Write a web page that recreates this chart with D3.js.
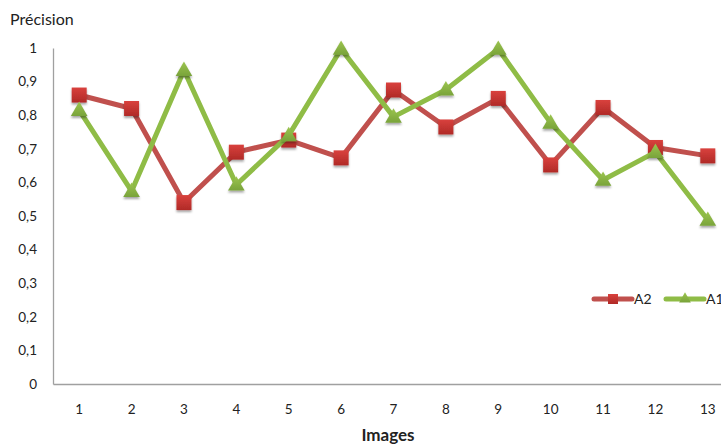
<!DOCTYPE html>
<html><head><meta charset="utf-8">
<script src="https://cdn.jsdelivr.net/npm/d3@7"></script>
<style>body{margin:0;background:#fff;overflow:hidden}svg{display:block}</style>
</head><body>
<svg id="c" width="721" height="445"></svg>
<script>
const categories = ["1","2","3","4","5","6","7","8","9","10","11","12","13"];
const seriesA2 = [0.86,0.82,0.54,0.69,0.726,0.673,0.875,0.765,0.85,0.652,0.823,0.704,0.679];
const seriesA1 = [0.815,0.574,0.934,0.593,0.74,0.997,0.795,0.876,0.997,0.777,0.607,0.69,0.488];
const yTicks = [0,0.1,0.2,0.3,0.4,0.5,0.6,0.7,0.8,0.9,1];
const seriesNames = ["A2","A1"];

const svg = d3.select("#c");
const font = "Lato, 'Open Sans', sans-serif";
const x = d3.scaleBand().domain(categories).range([53, 734]).padding(0);
const y = d3.scaleLinear().domain([0,1]).range([384,48]);

const defs = svg.append("defs");
const sh = defs.append("filter").attr("id","sh").attr("x","-50%").attr("y","-50%").attr("width","200%").attr("height","200%");
sh.append("feDropShadow").attr("dx",0).attr("dy",2).attr("stdDeviation",1.2).attr("flood-color","#000").attr("flood-opacity",0.35);
const gR = defs.append("linearGradient").attr("id","gR").attr("x1",0).attr("y1",0).attr("x2",0).attr("y2",1);
gR.append("stop").attr("offset","0").attr("stop-color","#d9413d");
gR.append("stop").attr("offset","1").attr("stop-color","#b02a27");
const gG = defs.append("linearGradient").attr("id","gG").attr("x1",0).attr("y1",0).attr("x2",0).attr("y2",1);
gG.append("stop").attr("offset","0").attr("stop-color","#9cc54f");
gG.append("stop").attr("offset","1").attr("stop-color","#79a33a");

// axes
const yAxis = svg.append("g").attr("transform","translate(53,0)")
  .call(d3.axisLeft(y).tickValues(yTicks).tickSize(0).tickPadding(16)
    .tickFormat(d => d3.format(".1~f")(d).replace(".", ",")));
yAxis.select(".domain").attr("stroke","#a0a0a0").attr("stroke-width",1.3);
yAxis.selectAll("text").attr("font-family",font).attr("font-size",13.5).attr("fill","#222");

const xAxis = svg.append("g").attr("transform","translate(0,384)")
  .call(d3.axisBottom(x).tickSize(0).tickPadding(20));
xAxis.select(".domain").attr("stroke","#a0a0a0").attr("stroke-width",1.3);
xAxis.selectAll("text").attr("font-family",font).attr("font-size",13.5).attr("fill","#222");

svg.append("text").attr("x",10).attr("y",25).text("Précision")
  .attr("font-family",font).attr("font-size",16).attr("fill","#222");
svg.append("text").attr("x",388).attr("y",441).attr("text-anchor","middle").text("Images")
  .attr("font-family",font).attr("font-size",17).attr("font-weight","bold").attr("fill","#222");

const line = d3.line().x((d,i)=>x(categories[i])+x.bandwidth()/2).y(d=>y(d));
const tri = d3.symbol().type(d3.symbolTriangle).size(120);

function drawSeries(vals, lineColor, fill, shape){
  svg.append("path").datum(vals).attr("d",line).attr("fill","none")
    .attr("stroke",lineColor).attr("stroke-width",5).attr("stroke-linejoin","round");
  const g = svg.append("g");
  vals.forEach((v,i)=>{
    const cx = x(categories[i])+x.bandwidth()/2, cy = y(v);
    if(shape==="sq"){
      g.append("rect").attr("x",cx-7.5).attr("y",cy-7.5).attr("width",15).attr("height",15)
        .attr("fill",fill).attr("filter","url(#sh)");
    } else {
      g.append("path").attr("d",tri).attr("transform",`translate(${cx},${cy+1})`)
        .attr("fill",fill).attr("filter","url(#sh)");
    }
  });
}
drawSeries(seriesA2, "#c0504d", "url(#gR)", "sq");
drawSeries(seriesA1, "#8fbc46", "url(#gG)", "tri");

// legend
const leg = svg.append("g");
const items = [
  {name:seriesNames[0], x0:594, color:"#c0504d", fill:"url(#gR)", shape:"sq"},
  {name:seriesNames[1], x0:666, color:"#8fbc46", fill:"url(#gG)", shape:"tri"}
];
items.forEach(it=>{
  leg.append("line").attr("x1",it.x0).attr("x2",it.x0+38).attr("y1",299).attr("y2",299)
    .attr("stroke",it.color).attr("stroke-width",5).attr("stroke-linecap","round");
  if(it.shape==="sq") leg.append("rect").attr("x",it.x0+14).attr("y",294).attr("width",10).attr("height",10).attr("fill",it.fill);
  else leg.append("path").attr("d",d3.symbol().type(d3.symbolTriangle).size(60)).attr("transform",`translate(${it.x0+19},${299})`).attr("fill",it.fill);
  leg.append("text").attr("x",it.x0+40).attr("y",304).text(it.name)
    .attr("font-family",font).attr("font-size",14).attr("fill","#222");
});
</script>
</body></html>
